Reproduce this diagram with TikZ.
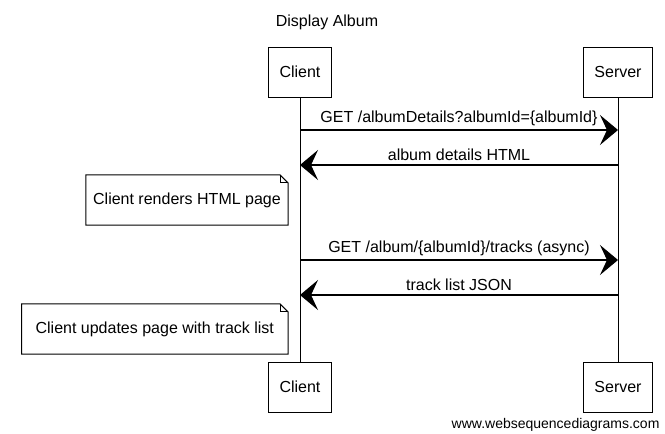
\documentclass[tikz,border=0pt]{standalone}
\usepackage{fontspec}
\setmainfont{Liberation Sans}
\usetikzlibrary{arrows.meta}

\begin{document}
\begin{tikzpicture}[x=1pt, y=-1pt,
          font = \fontsize{16}{19}\selectfont,
   actor/.style = {rectangle, draw, line width=1pt, minimum height=50pt, inner xsep=11pt},
    note/.style = {rectangle, minimum height=50pt, inner xsep=7pt, anchor=east},
     msg/.style = {line width=1.1pt, -{Stealth[length=18pt, width=30pt, inset=7pt]}},
    life/.style = {line width=1pt}
                    ]
\useasboundingbox (0,0) rectangle (665,434);
\node (title) at (327,22) {Display Album};
% participants
\node (ctop)[actor] at (300,72) {Client};
\node (stop)[actor] at (618,72) {Server};
\node (cbot)[actor] at (300,387) {Client};
\node (sbot)[actor] at (618,387) {Server};
\draw[life] (ctop) -- (cbot);
\draw[life] (stop) -- (sbot);
% messages
\coordinate (c1) at (300,130); \coordinate (s1) at (618,130);
\coordinate (c2) at (300,165); \coordinate (s2) at (618,165);
\coordinate (c3) at (300,260); \coordinate (s3) at (618,260);
\coordinate (c4) at (300,295); \coordinate (s4) at (618,295);
\draw[msg] (c1) -- node[above=0pt] {GET /albumDetails?albumId=\{albumId\}} (s1);
\draw[msg] (s2) -- node[above=0pt] {album details HTML} (c2);
\draw[msg] (c3) -- node[above=0pt] {GET /album/\{albumId\}/tracks (async)} (s3);
\draw[msg] (s4) -- node[above=0pt] {track list JSON} (c4);
% notes
\node (render)[note, minimum width=198pt] at (288,200) {Client renders HTML page};
\node (update)[note, minimum width=266pt] at (288,329) {Client updates page with track list};
\foreach \n in {render, update} {
  \draw[life] (\n.north west) -- ([xshift=-8pt]\n.north east) -- ([yshift=-8pt]\n.north east)
     -- (\n.south east) -- (\n.south west) -- cycle;
  \draw[life] ([xshift=-8pt]\n.north east) |- ([yshift=-8pt]\n.north east);
}
\node (wsd)[anchor=east, font=\fontsize{14}{16}\selectfont] at (663,425) {www.websequencediagrams.com};
\end{tikzpicture}
\end{document}
